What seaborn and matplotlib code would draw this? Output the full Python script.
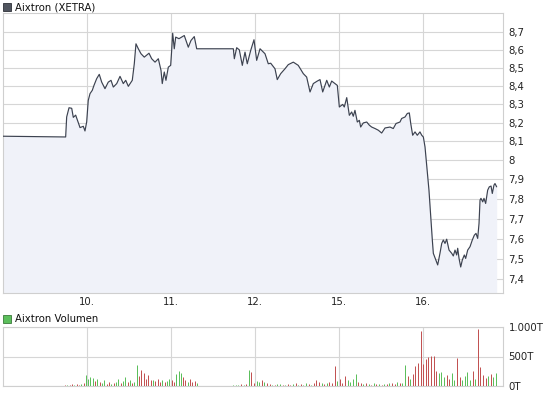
import numpy as np
import matplotlib
matplotlib.use('Agg')
import matplotlib.pyplot as plt
import matplotlib.patches as mpatches
from matplotlib.ticker import FixedLocator, NullLocator
import seaborn as sns

#%% data
# time axis in trading days since the open on the 9th (10. = 1, 11. = 2, ...)
price_t = [0.000, 0.746, 0.758, 0.786, 0.818, 0.837, 0.865, 0.917, 0.956, 0.976,
           0.996, 1.015, 1.036, 1.063, 1.083, 1.115, 1.146, 1.175, 1.214, 1.253,
           1.286, 1.313, 1.354, 1.393, 1.432, 1.461, 1.492, 1.539, 1.563, 1.583,
           1.611, 1.643, 1.682, 1.738, 1.770, 1.810, 1.849, 1.881, 1.896, 1.920,
           1.940, 1.968, 1.996, 2.008, 2.020, 2.039, 2.056, 2.095, 2.158, 2.206,
           2.238, 2.277, 2.306, 2.742, 2.754, 2.782, 2.813, 2.849, 2.881, 2.908,
           2.949, 2.988, 3.020, 3.060, 3.119, 3.158, 3.187, 3.238, 3.265, 3.306,
           3.357, 3.396, 3.456, 3.515, 3.575, 3.615, 3.655, 3.694, 3.742, 3.774,
           3.806, 3.854, 3.885, 3.913, 3.952, 3.980, 4.004, 4.044, 4.063, 4.092,
           4.123, 4.151, 4.170, 4.190, 4.218, 4.242, 4.258, 4.289, 4.330, 4.361,
           4.389, 4.429, 4.468, 4.508, 4.548, 4.607, 4.646, 4.679, 4.726, 4.746,
           4.786, 4.813, 4.837, 4.854, 4.877, 4.905, 4.932, 4.964, 4.985, 5.004,
           5.024, 5.044, 5.071, 5.095, 5.111, 5.123, 5.151, 5.175, 5.202, 5.223,
           5.242, 5.262, 5.282, 5.310, 5.342, 5.361, 5.381, 5.401, 5.413, 5.429,
           5.449, 5.468, 5.492, 5.508, 5.532, 5.560, 5.587, 5.611, 5.631, 5.651,
           5.667, 5.679, 5.690, 5.711, 5.726, 5.746, 5.770, 5.789, 5.810, 5.825,
           5.845, 5.857, 5.877]
price = [8.127, 8.123, 8.230, 8.280, 8.277, 8.228, 8.240, 8.173, 8.180, 8.155,
         8.203, 8.320, 8.357, 8.375, 8.402, 8.439, 8.463, 8.420, 8.384, 8.420,
         8.430, 8.393, 8.412, 8.452, 8.412, 8.430, 8.397, 8.430, 8.522, 8.634,
         8.606, 8.578, 8.559, 8.581, 8.550, 8.531, 8.550, 8.485, 8.412, 8.476,
         8.430, 8.503, 8.513, 8.597, 8.694, 8.606, 8.672, 8.663, 8.681, 8.615,
         8.653, 8.675, 8.606, 8.606, 8.550, 8.612, 8.600, 8.513, 8.587, 8.522,
         8.597, 8.657, 8.541, 8.606, 8.578, 8.522, 8.525, 8.494, 8.434, 8.467,
         8.494, 8.517, 8.531, 8.513, 8.467, 8.448, 8.366, 8.412, 8.426, 8.434,
         8.366, 8.430, 8.393, 8.426, 8.412, 8.402, 8.284, 8.298, 8.284, 8.335,
         8.239, 8.257, 8.234, 8.266, 8.203, 8.212, 8.176, 8.198, 8.203, 8.186,
         8.176, 8.168, 8.159, 8.144, 8.171, 8.176, 8.168, 8.195, 8.203, 8.222,
         8.230, 8.249, 8.252, 8.195, 8.132, 8.150, 8.132, 8.150, 8.132, 8.123,
         8.070, 7.974, 7.845, 7.692, 7.593, 7.527, 7.497, 7.470, 7.527, 7.576,
         7.593, 7.576, 7.597, 7.543, 7.527, 7.514, 7.543, 7.519, 7.552, 7.502,
         7.460, 7.494, 7.519, 7.502, 7.543, 7.560, 7.593, 7.617, 7.626, 7.601,
         7.676, 7.794, 7.803, 7.785, 7.803, 7.777, 7.845, 7.862, 7.866, 7.828,
         7.871, 7.879, 7.862]

day_ticks = [1, 2, 3, 4, 5]
day_labels = ['10.', '11.', '12.', '15.', '16.']
price_ticks = [7.4, 7.5, 7.6, 7.7, 7.8, 7.9, 8.0, 8.1, 8.2, 8.3, 8.4, 8.5, 8.6, 8.7]
price_labels = ['7,4', '7,5', '7,6', '7,7', '7,8', '7,9', '8', '8,1', '8,2', '8,3',
                '8,4', '8,5', '8,6', '8,7']

# volume in thousand shares, two trading stretches (no trades in between)
vol_span_a = [0.738, 2.31]
vol_a = [25, 30, 20, 35, 28, 40, 30, 45, 60, 190, 120, 150, 140, 90, 130, 80, 60,
         100, 45, 70, 40, 55, 65, 130, 60, 90, 160, 70, 100, 55, 80, 350, 180, 270,
         220, 120, 190, 100, 110, 90, 130, 80, 100, 70, 90, 120, 100, 80, 200, 250,
         230, 160, 110, 70, 120, 80, 90, 60]
col_a = 'rgrrgrrgrggggrgrggrrgrggrggrgrggrrrrrrgrrrgrggrrgggrrgrrrg'
vol_span_b = [2.74, 5.87]
vol_b = [20, 30, 25, 35, 30, 40, 275, 245, 60, 90, 70, 100, 80, 50,
         40, 30, 25, 45, 35, 20, 30, 40, 25, 35, 50, 30, 40, 30, 60, 45, 30, 50,
         100, 70, 60, 40, 50, 70, 60, 340,
         90, 120, 60, 180, 100, 80, 130, 200, 70, 50, 40, 60, 45, 30, 50, 40, 35,
         30, 45, 40, 50, 60, 40, 80, 50, 60,
         360, 170, 130, 200, 340, 385, 935, 380, 460, 500, 505, 515, 250, 220, 240,
         160, 190, 130, 230, 100, 470, 150, 100, 170, 240, 100, 250, 120, 960, 330,
         190, 140, 180, 200, 150, 220]
col_b = ('gggrgrgrrggrgr'
         'rgrggrgrrgrgrggrgrrrgrgrrr'
         'grrrggggrrgrgrgrgrgrgrrgrg'
         'grgrrrrrrrrrrgggrrggrrggggrgrrrrgrgg')
vol_ticks = [0, 500, 1000]
vol_labels = ['0T', '500T', '1.000T']

#%% style
sns.set_style('white')
plt.rcParams['font.family'] = ['DejaVu Sans']
grid_c = '#d6d6d6'
line_c = '#3c4250'
fill_c = '#f0f2f9'
green = '#5cbf5c'
red = '#c25252'
fs = 7.3

fig = plt.figure(figsize=(5.45, 3.95), dpi=100)
ax = fig.add_axes([3 / 545, 1 - 293 / 395, 500 / 545, 280 / 395])
axv = fig.add_axes([3 / 545, 1 - 386.3 / 395, 500 / 545, 59.6 / 395])

#%% price panel
ax.set_yscale('log')
ax.set_xlim(0, 500 / 84)
ax.set_ylim(7.334, 8.81)
ax.fill_between(price_t, price, 7.0, color=fill_c, lw=0, zorder=1)
sns.lineplot(x=price_t, y=price, ax=ax, color=line_c, lw=0.85, zorder=3,
             estimator=None, sort=False)
ax.yaxis.set_major_locator(FixedLocator(price_ticks))
ax.yaxis.set_minor_locator(NullLocator())
ax.set_yticklabels(price_labels)
ax.set_xticks(day_ticks)
ax.set_xticklabels(day_labels)

#%% volume panel, one-pixel bars
for span, vols, cols in [(vol_span_a, vol_a, col_a), (vol_span_b, vol_b, col_b)]:
    t = np.linspace(span[0], span[1], len(vols))
    c = [green if k == 'g' else red for k in cols]
    axv.vlines(t, 0, vols, colors=c, lw=0.72, zorder=3)
axv.set_xlim(0, 500 / 84)
axv.set_ylim(0, 1000)
axv.set_yticks(vol_ticks)
axv.set_yticklabels(vol_labels)
axv.set_xticks(day_ticks)
axv.tick_params(axis='x', labelbottom=False)

for a in (ax, axv):
    a.grid(True, color=grid_c, lw=0.8)
    a.set_axisbelow(True)
    a.yaxis.tick_right()
    a.tick_params(axis='both', length=0, labelsize=fs, colors='#222222')
    a.tick_params(axis='y', pad=4)
    a.tick_params(axis='x', pad=3)
    a.set_ylabel('')
    for s in a.spines.values():
        s.set_color('#cfcfcf')
        s.set_linewidth(0.8)
    for lab in a.get_yticklabels():
        lab.set_horizontalalignment('left')

#%% titles with small colour squares
fig.patches.append(mpatches.Rectangle((3 / 545, 1 - 11 / 395), 8 / 545, 8 / 395,
                                      transform=fig.transFigure, fc='#50555f',
                                      ec='#2e3138', lw=0.6))
fig.text(15 / 545, 1 - 7 / 395, 'Aixtron (XETRA)', fontsize=fs, va='center',
         color='#111111')
fig.patches.append(mpatches.Rectangle((3 / 545, 1 - 323 / 395), 8 / 545, 8 / 395,
                                      transform=fig.transFigure, fc=green,
                                      ec='#3a7a3a', lw=0.6))
fig.text(15 / 545, 1 - 319 / 395, 'Aixtron Volumen', fontsize=fs, va='center',
         color='#111111')

fig.savefig('out.png', dpi=100)
